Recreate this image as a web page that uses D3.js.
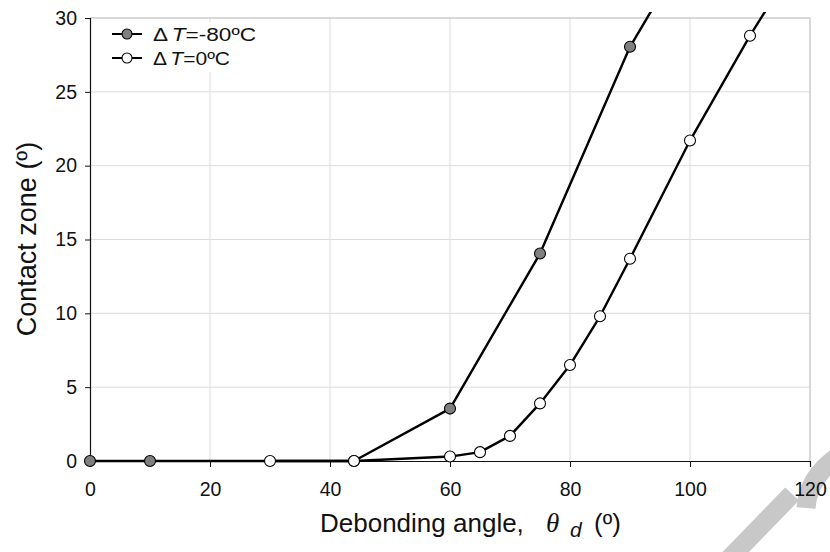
<!DOCTYPE html>
<html>
<head>
<meta charset="utf-8">
<script src="https://cdn.jsdelivr.net/npm/d3@7"></script>
<style>
  body { margin: 0; background: #fff; }
  svg { display: block; font-family: "Liberation Sans", Arial, sans-serif; }
</style>
</head>
<body>
<div id="chart"></div>
<script>
// data
const xCold = [0, 10, 44, 60, 75, 90, 100];
const yCold = [0, 0, 0, 3.55, 14.05, 28.05, 34.9];
const xRoom = [30, 44, 60, 65, 70, 75, 80, 85, 90, 100, 110, 120];
const yRoom = [0, 0, 0.3, 0.6, 1.7, 3.9, 6.5, 9.8, 13.7, 21.7, 28.8, 35.3];
const xTicks = [0, 20, 40, 60, 80, 100, 120];
const yTicks = [0, 5, 10, 15, 20, 25, 30];
const legendLabels = ['-80ºC', '0ºC'];

const W = 830, H = 552, M = { t: 18, r: 20, b: 91, l: 90 };
const svg = d3.select('#chart').append('svg').attr('width', W).attr('height', H);

const x = d3.scaleLinear().domain([0, 120]).range([M.l, W - M.r]);
const y = d3.scaleLinear().domain([0, 30]).range([H - M.b, M.t]);

// faint watermark fragments in the corner, behind everything
const wm = svg.append('g').attr('fill', 'none').attr('stroke', '#c8c8c8').attr('stroke-width', 19);
wm.append('path').attr('d', 'M728,560 L792,494');
wm.append('path').attr('d', 'M806,508 Q808,478 836,458');

// grid
svg.append('g').selectAll('line').data(xTicks.slice(1)).enter().append('line')
  .attr('x1', d => x(d)).attr('x2', d => x(d)).attr('y1', y(0)).attr('y2', y(30))
  .attr('stroke', '#dcdcdc').attr('stroke-width', 1);
svg.append('g').selectAll('line').data(yTicks.slice(1)).enter().append('line')
  .attr('x1', x(0)).attr('x2', x(120)).attr('y1', d => y(d)).attr('y2', d => y(d))
  .attr('stroke', '#dcdcdc').attr('stroke-width', 1);
svg.append('line').attr('x1', x(120)).attr('x2', x(120)).attr('y1', y(0)).attr('y2', y(30))
  .attr('stroke', '#c4c4c4');
svg.append('line').attr('x1', x(0)).attr('x2', x(120)).attr('y1', y(30)).attr('y2', y(30))
  .attr('stroke', '#c4c4c4');

// legend box hides the grid behind it
svg.append('rect').attr('x', 96).attr('y', 22).attr('width', 190).attr('height', 50).attr('fill', '#fff');

// axes
const ax = svg.append('g').attr('transform', `translate(0,${y(0)})`)
  .call(d3.axisBottom(x).tickValues(xTicks).tickSize(6).tickPadding(15));
const ay = svg.append('g').attr('transform', `translate(${x(0)},0)`)
  .call(d3.axisLeft(y).tickValues(yTicks).tickSize(5).tickPadding(8));
[ax, ay].forEach(g => {
  g.selectAll('text').attr('font-size', 19.5).attr('fill', '#111').attr('font-family', '"Liberation Sans", Arial, sans-serif');
  g.select('.domain').attr('stroke', '#111').attr('stroke-width', 1.2);
  g.selectAll('.tick line').attr('stroke', '#111');
});

// series
svg.append('clipPath').attr('id', 'clip').append('rect')
  .attr('x', 0).attr('y', 12).attr('width', W).attr('height', H);
const line = d3.line().x(d => x(d[0])).y(d => y(d[1]));
const cold = d3.zip(xCold, yCold), room = d3.zip(xRoom, yRoom);
const plot = svg.append('g').attr('clip-path', 'url(#clip)');
[cold, room].forEach(s => {
  plot.append('path').datum(s).attr('d', line).attr('fill', 'none')
    .attr('stroke', '#000').attr('stroke-width', 2.4).attr('stroke-linejoin', 'round');
});
[[cold, '#7f7f7f'], [room, '#fff']].forEach(([s, fill]) => {
  plot.selectAll(null).data(s.filter(d => d[1] <= 30)).enter().append('circle')
    .attr('cx', d => x(d[0])).attr('cy', d => y(d[1])).attr('r', 5.5)
    .attr('fill', fill).attr('stroke', '#000').attr('stroke-width', 1.1);
});

// legend
const lg = svg.append('g');
legendLabels.forEach((lab, i) => {
  const ly = 34 + i * 24;
  lg.append('line').attr('x1', 112).attr('x2', 142).attr('y1', ly).attr('y2', ly)
    .attr('stroke', '#000').attr('stroke-width', 2);
  lg.append('circle').attr('cx', 127).attr('cy', ly).attr('r', 5)
    .attr('fill', i === 0 ? '#7f7f7f' : '#fff').attr('stroke', '#000').attr('stroke-width', 1.1);
  const t = lg.append('text').attr('x', 153).attr('y', ly + 7).attr('font-size', 19).attr('fill', '#111')
    .attr('textLength', i === 0 ? 103 : 77).attr('lengthAdjust', 'spacingAndGlyphs');
  t.append('tspan').text('Δ');
  t.append('tspan').attr('dx', 3).attr('font-style', 'italic').text('T');
  t.append('tspan').text('=' + lab);
});

// axis titles
svg.append('text').attr('transform', 'translate(36,239) rotate(-90)')
  .attr('text-anchor', 'middle').attr('font-size', 27).attr('fill', '#111')
  .text('Contact zone (º)');
const xt = svg.append('text').attr('y', 532).attr('font-size', 26).attr('fill', '#111');
xt.append('tspan').attr('x', 320).text('Debonding angle,');
xt.append('tspan').attr('x', 546).attr('font-style', 'italic')
  .attr('font-family', '"Liberation Serif", "Times New Roman", serif').attr('font-size', 27).text('θ');
xt.append('tspan').attr('x', 570).attr('dy', 5).attr('font-style', 'italic').attr('font-size', 21).text('d');
xt.append('tspan').attr('x', 594).attr('dy', -5).text('(º)');
</script>
</body>
</html>
